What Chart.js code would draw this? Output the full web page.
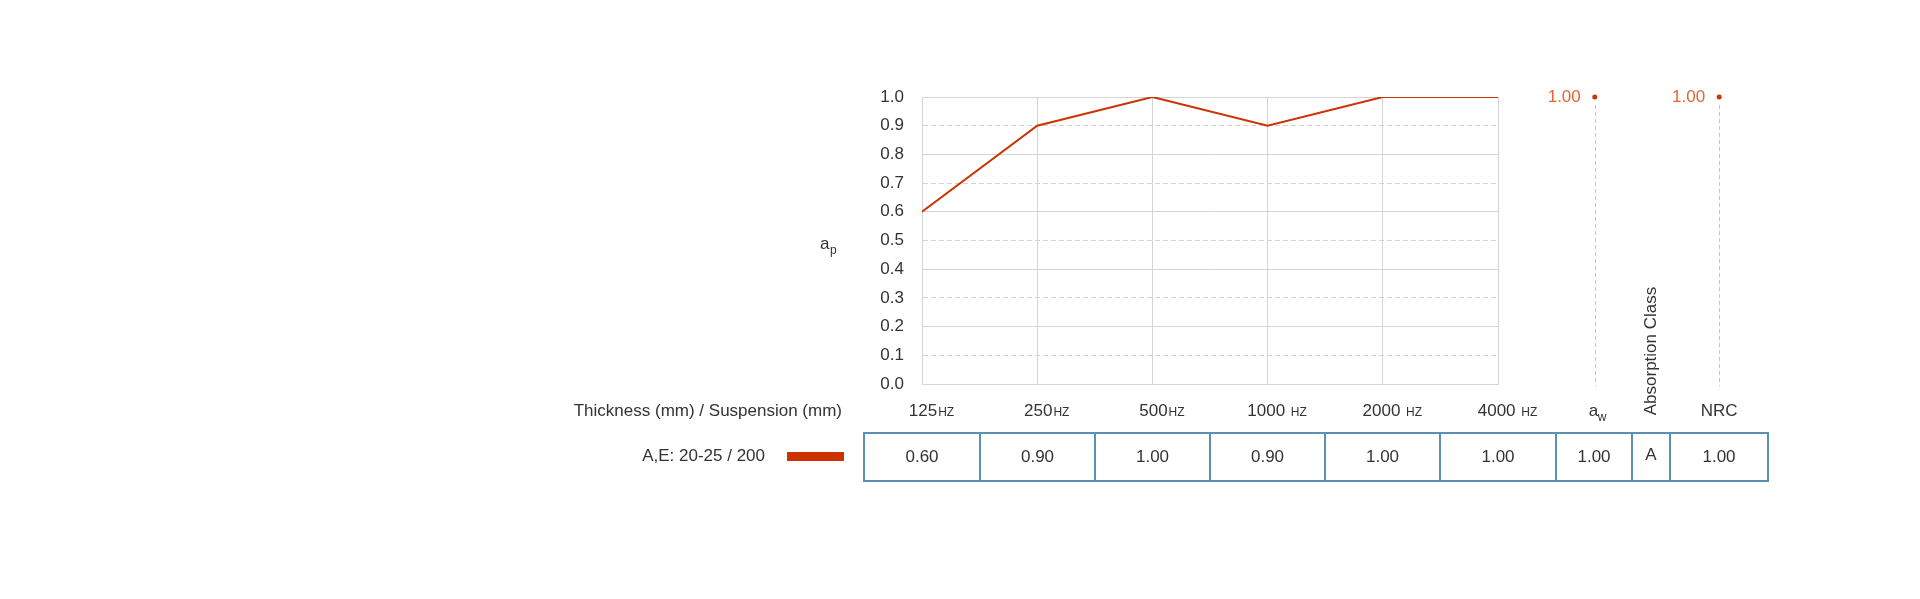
<!DOCTYPE html>
<html>
<head>
<meta charset="utf-8">
<script src="https://cdn.jsdelivr.net/npm/chart.js@4.4.1/dist/chart.umd.min.js"></script>
<style>
  html, body { margin: 0; padding: 0; background: #fff; }
  #wrap { width: 1920px; height: 599px; position: relative; }
</style>
</head>
<body>
<div id="wrap"><canvas id="absorptionChart" width="1920" height="599"></canvas></div>
<script>
// data
const freqLabels = ['125', '250', '500', '1000', '2000', '4000'];
const alphaP = [0.60, 0.90, 1.00, 0.90, 1.00, 1.00];
const alphaW = 1.00;
const nrcValue = 1.00;
const absorptionClass = 'A';
const seriesName = 'A,E: 20-25 / 200';
const headerText = 'Thickness (mm) / Suspension (mm)';

// layout, in x-scale units (one unit = one octave column)
const awPos = 5.84;
const nrcPos = 6.92;
const classPos = 6.325;
const tableEdges = [-0.5, 0.5, 1.5, 2.5, 3.5, 4.5, 5.5, 6.16, 6.49, 7.34];

const FONT = '"Liberation Sans", Arial, sans-serif';
const TEXT = '#333';
const RED = '#cc3300';
const LABEL_RED = '#e0682e';
const GRID = '#d4d4d4';

const extras = {
    id: 'extras',
    beforeDatasetsDraw(chart) {
        const { ctx, scales: { x, y } } = chart;
        // dashed drop lines under the single-number ratings
        ctx.save();
        ctx.strokeStyle = '#c4c4c4';
        ctx.lineWidth = 1;
        ctx.setLineDash([4, 3]);
        [awPos, nrcPos].forEach(p => {
            const px = Math.round(x.getPixelForValue(p)) + 0.5;
            ctx.beginPath();
            ctx.moveTo(px, y.getPixelForValue(1) + 8);
            ctx.lineTo(px, y.getPixelForValue(0) + 2);
            ctx.stroke();
        });
        ctx.restore();
    },
    afterDatasetsDraw(chart) {
        // rating points lie outside the chart area, which Chart.js skips; draw them without the area test
        chart.getDatasetMeta(1).data.forEach(pt => pt.draw(chart.ctx));
    },
    afterDraw(chart) {
        const { ctx, scales: { x, y } } = chart;
        ctx.save();

        // "1.00" labels beside the rating points
        ctx.font = '17px ' + FONT;
        ctx.fillStyle = LABEL_RED;
        ctx.textAlign = 'right';
        ctx.textBaseline = 'middle';
        ctx.fillText(alphaW.toFixed(2), x.getPixelForValue(awPos) - 14, y.getPixelForValue(alphaW));
        ctx.fillText(nrcValue.toFixed(2), x.getPixelForValue(nrcPos) - 14, y.getPixelForValue(nrcValue));

        // frequency labels with small "Hz"
        ctx.fillStyle = TEXT;
        ctx.textAlign = 'left';
        ctx.textBaseline = 'alphabetic';
        const base = 416;
        freqLabels.forEach((f, i) => {
            const num = f + (f.length > 3 ? ' ' : '');
            ctx.font = '17px ' + FONT;
            const w1 = ctx.measureText(num).width;
            ctx.font = '12px ' + FONT;
            const w2 = ctx.measureText('HZ').width;
            const left = x.getPixelForValue(i) + 9 - (w1 + w2) / 2;
            ctx.font = '17px ' + FONT;
            ctx.fillText(num, left, base);
            ctx.font = '12px ' + FONT;
            ctx.fillText('HZ', left + w1 + 1, base);
        });

        // a_w and NRC column heads
        const awX = x.getPixelForValue(awPos) + 3;
        ctx.font = '17px ' + FONT;
        ctx.fillText('a', awX - 9, base);
        ctx.font = '12px ' + FONT;
        ctx.fillText('w', awX, base + 5);
        ctx.font = '17px ' + FONT;
        ctx.textAlign = 'center';
        ctx.fillText('NRC', x.getPixelForValue(nrcPos), base);

        // rotated "Absorption Class"
        ctx.save();
        ctx.translate(x.getPixelForValue(classPos) + 1, 351);
        ctx.rotate(-Math.PI / 2);
        ctx.textBaseline = 'middle';
        ctx.fillText('Absorption Class', 0, 0);
        ctx.restore();

        // y axis title a_p
        ctx.textAlign = 'left';
        const apY = y.getPixelForValue(0.5) + 8;
        ctx.font = '17px ' + FONT;
        ctx.fillText('a', x.left - 102, apY);
        ctx.font = '12px ' + FONT;
        ctx.fillText('p', x.left - 92, apY + 5);

        // header and series name with legend swatch
        ctx.font = '17px ' + FONT;
        ctx.textAlign = 'right';
        ctx.fillText(headerText, 842, base);
        ctx.textBaseline = 'middle';
        ctx.fillText(seriesName, 765, 456);
        ctx.fillStyle = RED;
        ctx.fillRect(787, 452, 57, 9);

        // value table
        const top = 433, bottom = 481;
        const edges = tableEdges.map(e => Math.round(x.getPixelForValue(e)));
        ctx.strokeStyle = '#5b8fb3';
        ctx.lineWidth = 2;
        ctx.strokeRect(edges[0], top, edges[edges.length - 1] - edges[0], bottom - top);
        ctx.beginPath();
        edges.slice(1, -1).forEach(e => { ctx.moveTo(e, top); ctx.lineTo(e, bottom); });
        ctx.stroke();

        const cells = alphaP.map(v => v.toFixed(2))
            .concat([alphaW.toFixed(2), absorptionClass, nrcValue.toFixed(2)]);
        ctx.fillStyle = TEXT;
        ctx.textAlign = 'center';
        ctx.textBaseline = 'middle';
        ctx.font = '17px ' + FONT;
        cells.forEach((t, i) => {
            const cx = (edges[i] + edges[i + 1]) / 2;
            ctx.fillText(t, cx, t === absorptionClass ? 455 : 457);
        });

        ctx.restore();
    }
};

new Chart(document.getElementById('absorptionChart'), {
    type: 'line',
    data: {
        datasets: [{
            data: alphaP.map((v, i) => ({ x: i, y: v })),
            borderColor: RED,
            borderWidth: 2,
            pointRadius: 0,
            tension: 0
        }, {
            // single-number ratings sit right of the plot, bubbles keep all points positioned
            type: 'bubble',
            data: [{ x: awPos, y: alphaW }, { x: nrcPos, y: nrcValue }],
            radius: 2.5,
            borderWidth: 0,
            backgroundColor: RED,
            borderColor: RED,
            clip: false
        }]
    },
    options: {
        responsive: false,
        devicePixelRatio: 1,
        animation: false,
        layout: { padding: { left: 862, right: 422, top: 97, bottom: 215 } },
        plugins: { legend: { display: false }, tooltip: { enabled: false } },
        scales: {
            x: {
                type: 'linear',
                min: 0,
                max: 5,
                ticks: { stepSize: 1, display: false },
                grid: { color: GRID, drawTicks: false },
                border: { color: GRID },
                afterFit: s => { s.height = 0; }
            },
            y: {
                min: 0,
                max: 1,
                ticks: {
                    stepSize: 0.1,
                    padding: 18,
                    color: TEXT,
                    font: { family: FONT, size: 17 },
                    callback: v => v.toFixed(1)
                },
                grid: { color: GRID, drawTicks: false },
                border: {
                    color: GRID,
                    dash: c => (c.index !== undefined && c.index % 2 === 1) ? [5, 3] : []
                },
                afterFit: s => { s.width = 60; }
            }
        }
    },
    plugins: [extras]
});
</script>
</body>
</html>
